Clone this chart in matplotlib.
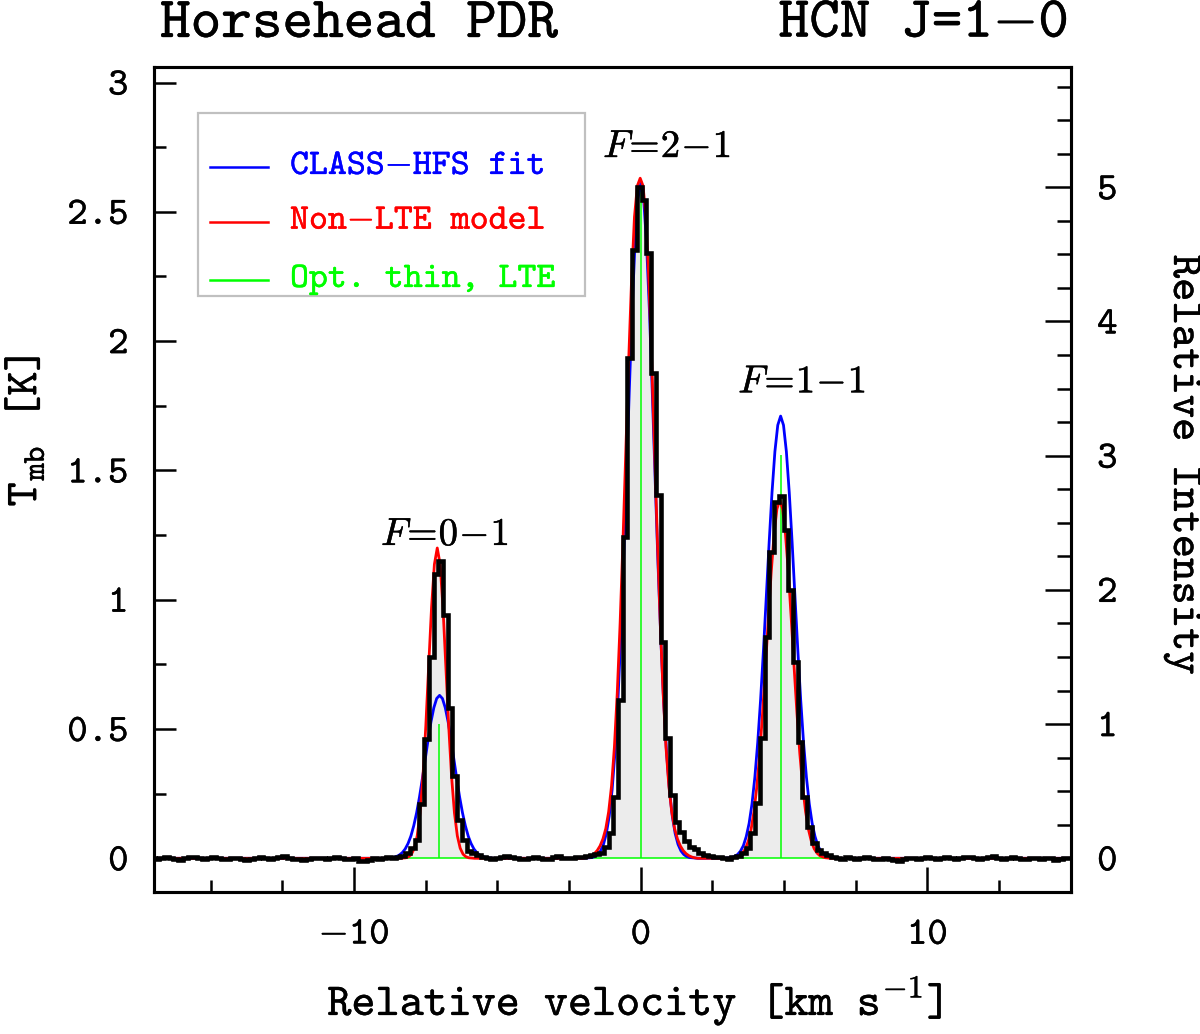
import numpy as np
import matplotlib
matplotlib.use("Agg")
import matplotlib.pyplot as plt
from matplotlib.ticker import MultipleLocator, FuncFormatter
from matplotlib.patches import Rectangle
from matplotlib import patheffects

plt.rcParams['font.family'] = ['cmtt10', 'DejaVu Sans Mono']
plt.rcParams['axes.unicode_minus'] = True
plt.rcParams['mathtext.fontset'] = 'cm'

# ---------------- data ----------------
channel_width = 0.165          # km/s
first_channel_edge = -17.13    # km/s

noise_left = [0.003, -0.002, 0.001, 0.004, 0.002, -0.003, -0.005, 0.000, 0.004, 0.006,
              0.002, -0.001, 0.003, 0.005, 0.001, -0.004, -0.002, 0.003, 0.000, -0.003,
              -0.006, -0.002, 0.002, 0.004, 0.001, -0.003, 0.000, 0.005, 0.007, 0.003,
              -0.001, -0.004, -0.007, -0.003, 0.001, 0.003, 0.000, -0.002, 0.002, 0.004,
              0.001, -0.002, -0.004, 0.000, -0.010, -0.012, -0.006, 0.002, -0.002, 0.001,
              0.004, 0.002, 0.006, 0.010]
peak_f01 = [0.02, 0.04, 0.07, 0.21, 0.46, 0.78, 1.10, 1.15, 0.94, 0.58, 0.32, 0.148, 0.07, 0.03, 0.02]
noise_mid1 = [0.012, 0.006, 0.002, -0.003, 0.001, 0.004, 0.008, 0.005, 0.000, -0.004,
              -0.002, 0.003, 0.006, 0.002, -0.003, -0.001, 0.004, 0.007, 0.003, 0.000,
              0.002, 0.005, 0.004, 0.008, 0.011, 0.015]
peak_f21 = [0.02, 0.045, 0.097, 0.238, 0.612, 1.244, 1.933, 2.352, 2.597, 2.546, 2.339,
            1.875, 1.405, 0.838, 0.464, 0.245, 0.142, 0.10, 0.065, 0.045, 0.035, 0.02]
noise_mid2 = [0.012, 0.008, 0.004, 0.006, 0.003, -0.002, 0.004, 0.010]
peak_f11 = [0.02, 0.04, 0.097, 0.213, 0.464, 0.857, 1.186, 1.379, 1.40, 1.27, 1.037,
            0.76, 0.451, 0.238, 0.122, 0.058, 0.032, 0.02]
noise_right = [0.012, 0.006, 0.002, -0.002, 0.004, 0.001, -0.003, 0.002, 0.005, 0.000,
               -0.004, -0.002, 0.003, -0.001, -0.006, -0.010, -0.004, 0.001, 0.003, -0.002,
               0.000, 0.004, 0.002, -0.003, 0.001, 0.005, 0.003, -0.001, 0.002, 0.006,
               0.004, 0.000, -0.003, 0.002, 0.005, 0.007, 0.003, -0.002, 0.001, 0.004,
               0.000, -0.004, -0.002, 0.003, 0.001, -0.003, 0.002, 0.000, -0.005, -0.002,
               0.003, 0.001, 0.002]

tmb = np.array(noise_left + peak_f01 + noise_mid1 + peak_f21 + noise_mid2 + peak_f11 + noise_right)
edges = first_channel_edge + channel_width * np.arange(len(tmb) + 1)

# hyperfine components
hfs_names = [r'$F\!=\!0\!-\!1$', r'$F\!=\!2\!-\!1$', r'$F\!=\!1\!-\!1$']
hfs_velocity = [-7.05, 0.0, 4.88]
lte_thin = [0.52, 2.60, 1.56]
lte_extent = [-8.4, 7.0]

# model profiles sampled at offsets (km/s) from each component centre
profile_offsets = np.arange(-20, 21) / 10.0
fit_centres = [-7.02, 0.0, 4.88]
fit_f01 = [0.000, 0.000, 0.001, 0.002, 0.004, 0.007, 0.013, 0.022, 0.036, 0.057, 0.086, 0.126, 0.176, 0.237,
           0.308, 0.383, 0.458, 0.527, 0.582, 0.618, 0.630, 0.618, 0.582, 0.527, 0.458, 0.383, 0.308, 0.237,
           0.176, 0.126, 0.086, 0.057, 0.036, 0.022, 0.013, 0.007, 0.004, 0.002, 0.001, 0.000, 0.000]
fit_f21 = [0.000, 0.001, 0.002, 0.003, 0.007, 0.015, 0.029, 0.054, 0.096, 0.163, 0.264, 0.408, 0.602, 0.849,
           1.144, 1.472, 1.809, 2.123, 2.381, 2.551, 2.610, 2.551, 2.381, 2.123, 1.809, 1.472, 1.144, 0.849,
           0.602, 0.408, 0.264, 0.163, 0.096, 0.054, 0.029, 0.015, 0.007, 0.003, 0.002, 0.001, 0.000]
fit_f11 = [0.000, 0.001, 0.002, 0.004, 0.008, 0.015, 0.028, 0.049, 0.084, 0.135, 0.210, 0.313, 0.447, 0.612,
           0.804, 1.012, 1.223, 1.416, 1.573, 1.675, 1.710, 1.675, 1.573, 1.416, 1.223, 1.012, 0.804, 0.612,
           0.447, 0.313, 0.210, 0.135, 0.084, 0.049, 0.028, 0.015, 0.008, 0.004, 0.002, 0.001, 0.000]

model_centres = [-7.10, -0.02, 4.85]
model_f01 = [0, 0, 0, 0, 0, 0, 0, 0, 0.001, 0.002, 0.006, 0.016, 0.039, 0.087, 0.175, 0.315, 0.510, 0.742,
             0.969, 1.137, 1.200, 1.137, 0.969, 0.742, 0.510, 0.315, 0.175, 0.087, 0.039, 0.016, 0.006,
             0.002, 0.001, 0, 0, 0, 0, 0, 0, 0, 0]
model_f21 = [0.000, 0.002, 0.005, 0.010, 0.018, 0.030, 0.048, 0.075, 0.115, 0.180, 0.280, 0.430, 0.640, 0.910,
             1.230, 1.580, 1.930, 2.240, 2.480, 2.600, 2.630, 2.600, 2.480, 2.240, 1.930, 1.580, 1.230, 0.910,
             0.640, 0.430, 0.280, 0.180, 0.115, 0.075, 0.048, 0.030, 0.018, 0.010, 0.005, 0.002, 0.000]
model_f11 = [0, 0, 0, 0.001, 0.002, 0.005, 0.010, 0.020, 0.037, 0.066, 0.112, 0.181, 0.277, 0.404, 0.560,
             0.739, 0.926, 1.105, 1.252, 1.351, 1.385, 1.351, 1.252, 1.105, 0.926, 0.739, 0.560, 0.404,
             0.277, 0.181, 0.112, 0.066, 0.037, 0.020, 0.010, 0.005, 0.002, 0.001, 0, 0, 0]

legend_labels = ['CLASS$-$HFS fit', 'Non$-$LTE model', 'Opt. thin, LTE']
rel_intensity_unit = 0.519   # K per unit of relative intensity

xlim = (-17.0, 15.0)
ylim = (-0.1303, 3.0619)

def full_curve(centres, comps):
    xs = [xlim[0] - 1]
    ys = [0.0]
    for c, vals in zip(centres, comps):
        xs.extend(list(c + profile_offsets))
        ys.extend(vals)
    xs.append(xlim[1] + 1)
    ys.append(0.0)
    return np.array(xs), np.array(ys)

def heavy(color='black', w=0.25):
    return [patheffects.withStroke(linewidth=w, foreground=color)]

def tick_fmt(v, _):
    return ('$-$' + f'{abs(v):g}') if v < 0 else f'{v:g}'

BLUE = '#0000ff'
RED = '#ff0000'
GREEN = '#00ff00'

# ---------------- figure ----------------
W, H = 1200, 1034
fig = plt.figure(figsize=(W / 100, H / 100), dpi=100)
L, R, T, B = 153.5, 1070.7, 66.5, 892.0
ax = fig.add_axes([L / W, 1 - B / H, (R - L) / W, (B - T) / H])

ax.stairs(tmb, edges, fill=True, baseline=0, color='#ececec', zorder=1)
ax.hlines(0, lte_extent[0], lte_extent[1], color=GREEN, lw=1.1, zorder=2)
ax.vlines(hfs_velocity, 0, lte_thin, color=GREEN, lw=1.1, zorder=2)
bx, by = full_curve(fit_centres, [fit_f01, fit_f21, fit_f11])
ax.plot(bx, by, color=BLUE, lw=2.0, zorder=3)
rx, ry = full_curve(model_centres, [model_f01, model_f21, model_f11])
ax.plot(rx, ry, color=RED, lw=2.0, zorder=4)
step = ax.stairs(tmb, edges, baseline=None, color='black', lw=3.3, zorder=5)
step.set_joinstyle('miter')

ax.set_xlim(*xlim)
ax.set_ylim(*ylim)

# component labels
label_xy = [(-6.83, 1.24), (0.92, 2.74), (5.63, 1.83)]
for name, (lx, ly) in zip(hfs_names, label_xy):
    ax.text(lx, ly, name, ha='center', va='center', fontsize=28, math_fontfamily='cm', zorder=6,
            path_effects=heavy('black', 0.3))

# ticks
ax.xaxis.set_major_locator(MultipleLocator(10))
ax.xaxis.set_minor_locator(MultipleLocator(2.5))
ax.xaxis.set_major_formatter(FuncFormatter(tick_fmt))
ax.yaxis.set_major_locator(MultipleLocator(0.5))
ax.yaxis.set_minor_locator(MultipleLocator(0.25))
ax.yaxis.set_major_formatter(FuncFormatter(tick_fmt))
ax.tick_params(axis='x', which='major', direction='in', length=18, width=1.8, pad=20, labelsize=28, top=False)
ax.tick_params(axis='x', which='minor', direction='in', length=9, width=1.8, top=False)
ax.tick_params(axis='y', which='major', direction='in', length=16, width=1.8, pad=18, labelsize=28, right=False)
ax.tick_params(axis='y', which='minor', direction='in', length=8.4, width=1.8, right=False)
for s in ax.spines.values():
    s.set_linewidth(2.2)

ax2 = ax.twinx()
ax2.set_ylim(ylim[0] / rel_intensity_unit, ylim[1] / rel_intensity_unit)
ax2.yaxis.set_major_locator(MultipleLocator(1))
ax2.yaxis.set_minor_locator(MultipleLocator(0.25))
ax2.yaxis.set_major_formatter(FuncFormatter(tick_fmt))
ax2.tick_params(axis='y', which='major', direction='in', length=19, width=1.8, pad=19, labelsize=28)
ax2.tick_params(axis='y', which='minor', direction='in', length=10, width=1.8)
for s in ax2.spines.values():
    s.set_linewidth(2.2)

# legend (drawn in axes fraction)
ax.add_patch(Rectangle((0.0485, 0.722), 0.422, 0.222, transform=ax.transAxes,
                       facecolor='white', edgecolor='#c0c0c0', lw=1.6, zorder=7))
leg_rows = [0.878, 0.8116, 0.7414]
for lab, col, yy in zip(legend_labels, [BLUE, RED, GREEN], leg_rows):
    ax.plot([0.0616, 0.1249], [yy, yy], transform=ax.transAxes, color=col, lw=1.8, zorder=8)
    ax.text(0.1488, yy, lab, transform=ax.transAxes, color=col, fontsize=26, va='center', ha='left',
            zorder=8, math_fontfamily='cm', path_effects=heavy(col))

# axis labels & titles
fig.text(635 / W, 1 - 1015 / H, r'Relative velocity [km s$^{-\mathtt{1}}$]', ha='center', va='baseline',
         fontsize=33, math_fontfamily='cm', path_effects=heavy())
fig.text(25 / W, 1 - 431 / H, r'T$_{\mathtt{mb}}$ [K]', rotation=90, ha='center', va='center',
         fontsize=33, math_fontfamily='cm', path_effects=heavy())
fig.text(1183 / W, 1 - 465 / H, 'Relative Intensity', rotation=270, ha='center', va='center', fontsize=32,
         path_effects=heavy())
fig.text(160 / W, 1 - 37 / H, 'Horsehead PDR', ha='left', va='baseline', fontsize=42,
         path_effects=heavy())
fig.text(1068 / W, 1 - 37 / H, 'HCN J=1$-$0', ha='right', va='baseline', fontsize=42,
         math_fontfamily='cm', path_effects=heavy())

fig.canvas.draw()
for lab in ax.get_xticklabels() + ax.get_yticklabels() + ax2.get_yticklabels():
    lab.set_path_effects(heavy())

fig.savefig('out.png', dpi=100)
